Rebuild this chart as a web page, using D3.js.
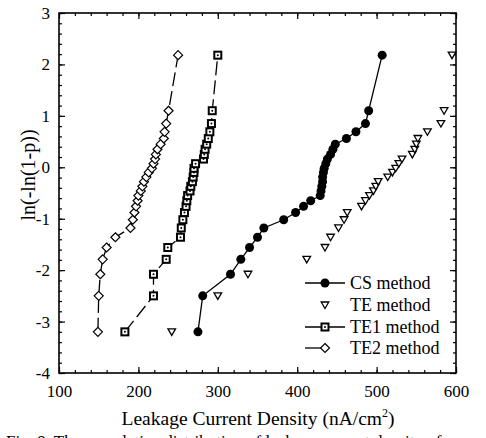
<!DOCTYPE html>
<html>
<head>
<meta charset="utf-8">
<script src="https://cdn.jsdelivr.net/npm/d3@7"></script>
<style>
  body { margin: 0; background: #fff; }
  svg text { font-family: "Liberation Serif", "DejaVu Serif", serif; fill: #000; }
</style>
</head>
<body>
<svg id="chart" width="486" height="438"></svg>
<script>
// ranks on the Weibull axis, shared by all four series
const weibullY = [-3.2, -2.5, -2.08, -1.79, -1.56, -1.36, -1.18, -1.02, -0.88, -0.76,
  -0.65, -0.55, -0.46, -0.37, -0.28, -0.19, -0.1, -0.02, 0.07, 0.16,
  0.25, 0.35, 0.45, 0.56, 0.69, 0.85, 1.1, 2.18];

const csX = [275, 281, 316, 329, 340, 350, 358, 383, 398, 408,
  417, 429, 430, 431, 432, 432, 433, 434, 436, 438,
  442, 445, 448, 462, 474, 486, 490, 507];
const teX = [242, 300, 338, 412, 435, 442, 452, 459, 463, 481,
  486, 491, 496, 499, 502, 514, 520, 524, 528, 532,
  545, 548, 550, 552, 564, 581, 585, 595];
const te1X = [183, 219, 219, 235, 237, 253, 254, 256, 258, 260,
  261, 262, 265, 266, 268, 269, 270, 270, 272, 282,
  283, 284, 286, 288, 290, 292, 293, 300];
const te2X = [149, 150, 152, 155, 160, 171, 190, 193, 195, 197,
  199, 200, 203, 205, 207, 210, 213, 217, 219, 221,
  222, 224, 228, 232, 233, 235, 238, 250];

const xTicks = [100, 200, 300, 400, 500, 600];
const yTicks = [-4, -3, -2, -1, 0, 1, 2, 3];
const seriesNames = ['CS method', 'TE method', 'TE1 method', 'TE2 method'];

const svg = d3.select('#chart');
const plotLeft = 59, plotRight = 456, plotTop = 13, plotBottom = 373;
const serif = '"Liberation Serif", "DejaVu Serif", serif';

const x = d3.scaleLinear().domain([100, 600]).range([plotLeft, plotRight]);
const y = d3.scaleLinear().domain([-4, 3]).range([plotBottom, plotTop]);

// minor ticks (inside, all four sides)
const xMinor = d3.range(100, 601, 20);
const yMinor = d3.range(-40, 31, 2).map(d => d / 10);

function addAxis(axis, tx, ty, cls) {
  return svg.append('g')
    .attr('class', cls)
    .attr('transform', `translate(${tx},${ty})`)
    .call(axis)
    .attr('font-family', serif)
    .call(g => g.select('.domain').remove())
    .call(g => g.selectAll('line').attr('stroke', '#000').attr('stroke-width', 1.2));
}

addAxis(d3.axisBottom(x).tickValues(xMinor).tickSize(-3).tickFormat(''), 0, plotBottom, 'minor');
addAxis(d3.axisTop(x).tickValues(xMinor).tickSize(-3).tickFormat(''), 0, plotTop, 'minor');
addAxis(d3.axisLeft(y).tickValues(yMinor).tickSize(-3).tickFormat(''), plotLeft, 0, 'minor');
addAxis(d3.axisRight(y).tickValues(yMinor).tickSize(-3).tickFormat(''), plotRight, 0, 'minor');

// plain hyphen for negatives, as in the original
const plain = d => String(d);

const xAxis = addAxis(d3.axisBottom(x).tickValues(xTicks).tickSize(-6).tickPadding(12)
  .tickFormat(plain), 0, plotBottom, 'axis');
addAxis(d3.axisTop(x).tickValues(xTicks).tickSize(-6).tickFormat(''), 0, plotTop, 'axis');
const yAxis = addAxis(d3.axisLeft(y).tickValues(yTicks).tickSize(-6).tickPadding(9)
  .tickFormat(plain), plotLeft, 0, 'axis');
addAxis(d3.axisRight(y).tickValues(yTicks).tickSize(-6).tickFormat(''), plotRight, 0, 'axis');

xAxis.selectAll('text').attr('font-size', 17);
yAxis.selectAll('text').attr('font-size', 17);

svg.append('rect')
  .attr('x', plotLeft).attr('y', plotTop)
  .attr('width', plotRight - plotLeft).attr('height', plotBottom - plotTop)
  .attr('fill', 'none').attr('stroke', '#000').attr('stroke-width', 1.6);

// axis titles
const xTitle = svg.append('text')
  .attr('x', 258).attr('y', 425)
  .attr('text-anchor', 'middle')
  .attr('font-size', 19.5);
xTitle.append('tspan').text('Leakage Current Density (nA/cm');
xTitle.append('tspan').attr('dy', -8).attr('font-size', 12).text('2');
xTitle.append('tspan').attr('dy', 8).text(')');

svg.append('text')
  .attr('transform', 'translate(35,175) rotate(-90)')
  .attr('text-anchor', 'middle')
  .attr('font-size', 20)
  .text('ln(-ln(1-p))');

// caption, cut off by the bottom edge like in the scan
svg.append('text')
  .attr('x', 6).attr('y', 447)
  .attr('font-size', 17)
  .text('Fig. 9. The cumulative distribution of leakage current density of');

const line = d3.line().x(d => x(d[0])).y(d => y(d[1]));
const pts = xs => xs.map((v, i) => [v, weibullY[i]]);

function drawMarker(g, type, cx, cy) {
  if (type === 'circle') {
    g.append('circle').attr('cx', cx).attr('cy', cy).attr('r', 4.5).attr('fill', '#000');
  } else if (type === 'tri') {
    g.append('path')
      .attr('d', `M${cx - 3.8},${cy - 3} L${cx + 3.8},${cy - 3} L${cx},${cy + 3.5} Z`)
      .attr('fill', '#fff').attr('stroke', '#000').attr('stroke-width', 1.3);
  } else if (type === 'square') {
    g.append('rect').attr('x', cx - 3.5).attr('y', cy - 3.5).attr('width', 7).attr('height', 7)
      .attr('fill', '#fff').attr('stroke', '#000').attr('stroke-width', 2);
    g.append('circle').attr('cx', cx).attr('cy', cy).attr('r', 1).attr('fill', '#000');
  } else if (type === 'diamond') {
    g.append('path')
      .attr('d', `M${cx},${cy - 4.5} L${cx + 4.5},${cy} L${cx},${cy + 4.5} L${cx - 4.5},${cy} Z`)
      .attr('fill', '#fff').attr('stroke', '#000').attr('stroke-width', 1.2);
  }
}

const series = [
  { name: seriesNames[0], xs: csX, marker: 'circle', line: true, dash: null },
  { name: seriesNames[1], xs: teX, marker: 'tri', line: false, dash: null },
  { name: seriesNames[2], xs: te1X, marker: 'square', line: true, dash: '14,5' },
  { name: seriesNames[3], xs: te2X, marker: 'diamond', line: true, dash: '14,5' },
];

series.forEach(s => {
  const g = svg.append('g').attr('class', 'series');
  if (s.line) {
    g.append('path')
      .attr('d', line(pts(s.xs)))
      .attr('fill', 'none').attr('stroke', '#000').attr('stroke-width', 1.3)
      .attr('stroke-dasharray', s.dash);
  }
  pts(s.xs).forEach(p => drawMarker(g, s.marker, x(p[0]), y(p[1])));
});

// legend
const legend = svg.append('g').attr('class', 'legend');
const legendRows = [283, 305, 327, 348];
series.forEach((s, i) => {
  const cy = legendRows[i];
  if (s.line) {
    const x2 = s.marker === 'diamond' ? 325 : 345;
    legend.append('line').attr('x1', 305).attr('x2', x2).attr('y1', cy).attr('y2', cy)
      .attr('stroke', '#000').attr('stroke-width', 1.3);
  }
  drawMarker(legend, s.marker, 325, cy);
  legend.append('text')
    .attr('x', 350).attr('y', cy + 5.5)
    .attr('font-size', 18)
    .text(s.name);
});
</script>
</body>
</html>
